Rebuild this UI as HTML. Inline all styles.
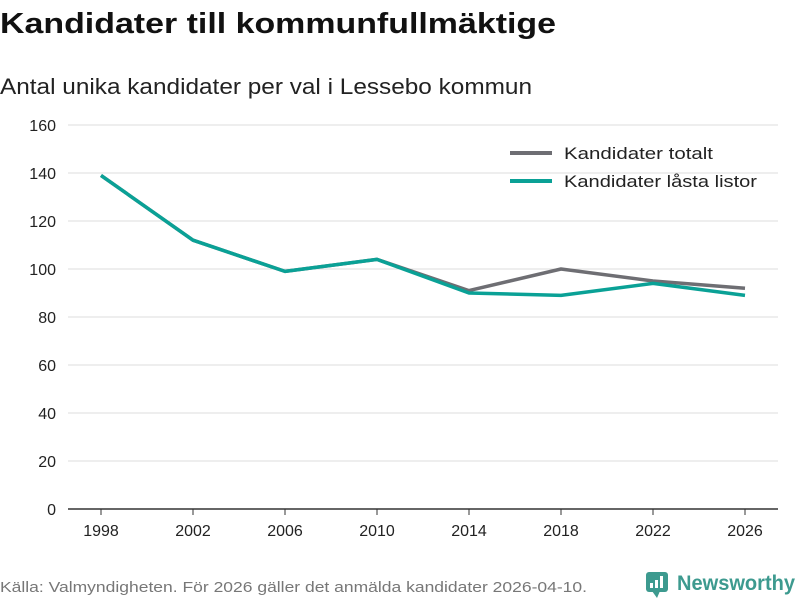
<!DOCTYPE html>
<html><head><meta charset="utf-8"><style>
body{margin:0;width:800px;height:600px;background:#fff;font-family:"Liberation Sans",sans-serif;overflow:hidden}
svg text{font-family:"Liberation Sans",sans-serif}
</style></head><body>
<svg id="chart" width="800" height="600">
<text x="0" y="33" font-size="29" font-weight="bold" fill="#111" textLength="556" lengthAdjust="spacingAndGlyphs">Kandidater till kommunfullmäktige</text>
<text x="0" y="94" font-size="22" fill="#222" textLength="532" lengthAdjust="spacingAndGlyphs">Antal unika kandidater per val i Lessebo kommun</text>
<g id="grid"></g><g id="xaxis"></g><g id="series"></g>
<g>
<line x1="510" y1="153" x2="552" y2="153" stroke="#6e6e73" stroke-width="4"/>
<text x="564" y="159" font-size="17" fill="#222" textLength="149" lengthAdjust="spacingAndGlyphs">Kandidater totalt</text>
<line x1="510" y1="181" x2="552" y2="181" stroke="#0aa196" stroke-width="4"/>
<text x="564" y="187" font-size="17" fill="#222" textLength="193" lengthAdjust="spacingAndGlyphs">Kandidater låsta listor</text>
</g>
<text x="0" y="592" font-size="15" fill="#777" textLength="587" lengthAdjust="spacingAndGlyphs">Källa: Valmyndigheten. För 2026 gäller det anmälda kandidater 2026-04-10.</text>
<g>
<rect x="646" y="572" width="22" height="20" rx="3" fill="#3d9a8f"/>
<path d="M652 591 L657 598 L660 591Z" fill="#3d9a8f"/>
<rect x="650" y="583" width="3" height="5" fill="#fff"/><rect x="655" y="580" width="3" height="8" fill="#fff"/><rect x="660" y="576" width="3" height="12" fill="#fff"/>
<text x="677" y="590" font-size="21" font-weight="bold" fill="#3d9a8f" textLength="118" lengthAdjust="spacingAndGlyphs">Newsworthy</text>
</g>
</svg>
<script>
const years=["1998","2002","2006","2010","2014","2018","2022","2026"];
const total=[139,112,99,104,91,100,95,92];
const locked=[139,112,99,104,90,89,94,89];
const yTicks=[0,20,40,60,80,100,120,140,160];
const NS="http://www.w3.org/2000/svg";
const y=v=>509-v*2.4;
const x=i=>101+i*92;
function mk(t,a,p){const e=document.createElementNS(NS,t);for(const k in a)e.setAttribute(k,a[k]);p.appendChild(e);return e;}
const grid=document.getElementById('grid');
yTicks.forEach(v=>{
  if(v>0){const l=mk('line',{x1:68,x2:778,y1:y(v),y2:y(v),stroke:'#ddd','stroke-width':1},grid);
  
  }
  const t=mk('text',{x:56,y:y(v)+6,'font-size':16,fill:'#222','text-anchor':'end'},grid);t.textContent=v;
  
  
});
const xa=document.getElementById('xaxis');
const ax=mk('line',{x1:68,x2:778,y1:509,y2:509,stroke:'#333','stroke-width':1.5},xa);


years.forEach((yr,i)=>{
  mk('line',{x1:x(i),x2:x(i),y1:509,y2:515,stroke:'#333'},xa);
  const t=mk('text',{x:x(i),y:536,'font-size':16,fill:'#222','text-anchor':'middle'},xa);t.textContent=yr;
  
  
});
const s=document.getElementById('series');
[[total,'#6e6e73','line-total'],[locked,'#0aa196','line-locked']].forEach(([d,c,n])=>{
  const p=mk('polyline',{points:d.map((v,i)=>x(i)+','+y(v)).join(' '),fill:'none',stroke:c,'stroke-width':3.5,'stroke-linejoin':'round'},s);
  
  
});
</script>
</body></html>
